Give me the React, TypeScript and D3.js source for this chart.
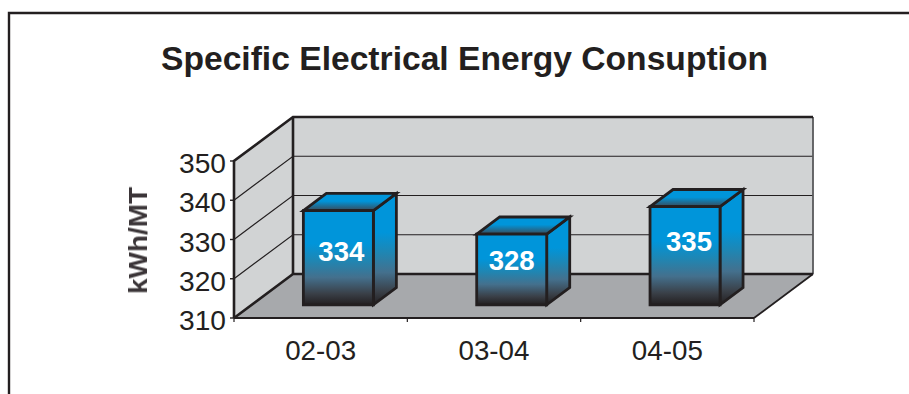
import React from "react";
import * as d3 from "d3";

// Plant energy figures by financial year
const categories = ["02-03", "03-04", "04-05"];
const values = [334, 328, 335];
const yTicks = [310, 320, 330, 340, 350];
const titleText = "Specific Electrical Energy Consuption";
const yAxisTitle = "kWh/MT";

const WIDTH = 909;
const HEIGHT = 394;
const INK = "#231f20";
const FONT = "'Liberation Sans', Arial, sans-serif";

// Oblique projection: the front plane of the box and the shift of its back plane
const FRONT_LEFT = 234;
const FRONT_RIGHT = 754;
const FRONT_BOTTOM = 318;
const FRONT_TOP = 161;
const DEPTH_X = 59;
const DEPTH_Y = -44;
const BAR_DEPTH_START = 0.3;
const BAR_DEPTH_END = 0.69;
const BAR_WIDTH = 70;

const y = d3.scaleLinear().domain([310, 350]).range([FRONT_BOTTOM, FRONT_TOP]);
const x = d3.scaleBand<string>().domain(categories).range([FRONT_LEFT, FRONT_RIGHT]);

// Per-bar nudges for the value captions
const captionOffsetX = [3, 0, 4];
const captionOffsetY = [-6, -8, -14];

const project = (px: number, value: number, depth: number): [number, number] => [
  px + DEPTH_X * depth,
  y(value) + DEPTH_Y * depth,
];

const poly = (points: [number, number][]) => {
  const p = d3.path();
  points.forEach(([a, b], i) => (i ? p.lineTo(a, b) : p.moveTo(a, b)));
  p.closePath();
  return p.toString();
};

const line = d3.line();

export default function App() {
  const base = yTicks[0];
  const top = yTicks[yTicks.length - 1];
  const backWall = poly([
    project(FRONT_LEFT, base, 1),
    project(FRONT_LEFT, top, 1),
    project(FRONT_RIGHT, top, 1),
    project(FRONT_RIGHT, base, 1),
  ]);
  const sideWall = poly([
    project(FRONT_LEFT, base, 0),
    project(FRONT_LEFT, top, 0),
    project(FRONT_LEFT, top, 1),
    project(FRONT_LEFT, base, 1),
  ]);
  const floor = poly([
    project(FRONT_LEFT, base, 0),
    project(FRONT_LEFT, base, 1),
    project(FRONT_RIGHT, base, 1),
    project(FRONT_RIGHT, base, 0),
  ]);

  return (
    <svg
      width={WIDTH}
      height={HEIGHT}
      viewBox={`0 0 ${WIDTH} ${HEIGHT}`}
      style={{ position: "absolute", left: 0, top: 0, background: "#fff" }}
    >
      <defs>
        <linearGradient id="barFront" x1="0" y1="0" x2="0" y2="1">
          <stop offset="0" stopColor="#0095da" />
          <stop offset="0.35" stopColor="#0095da" />
          <stop offset="0.53" stopColor="#1f86b3" />
          <stop offset="0.71" stopColor="#44708d" />
          <stop offset="0.88" stopColor="#3a4048" />
          <stop offset="1" stopColor={INK} />
        </linearGradient>
        <linearGradient id="barTop" x1="0" y1="1" x2="0" y2="0">
          <stop offset="0" stopColor="#3a4a58" />
          <stop offset="0.55" stopColor="#0095da" />
          <stop offset="1" stopColor="#0095da" />
        </linearGradient>
        <filter id="soft" x="-20%" y="-20%" width="140%" height="140%">
          <feGaussianBlur stdDeviation="0.7" />
        </filter>
      </defs>

      {/* outer frame, open past the right and bottom edges */}
      <path d="M9 394V13H909" fill="none" stroke={INK} strokeWidth={2.4} />

      <text
        x={464.5}
        y={69.5}
        textAnchor="middle"
        fontFamily={FONT}
        fontWeight={700}
        fontSize={33}
        fill={INK}
        textLength={607}
        lengthAdjust="spacingAndGlyphs"
      >
        {titleText}
      </text>

      {/* chart box */}
      <path d={backWall} fill="#d1d3d4" />
      <path d={sideWall} fill="#d1d3d4" />
      <path d={floor} fill="#a7a9ac" />

      {yTicks.slice(1, -1).map((t) => (
        <path
          key={t}
          d={line([project(FRONT_LEFT, t, 0), project(FRONT_LEFT, t, 1), project(FRONT_RIGHT, t, 1)]) ?? ""}
          fill="none"
          stroke={INK}
          strokeWidth={1.2}
        />
      ))}

      <path
        d={line([project(FRONT_RIGHT, top, 1), project(FRONT_RIGHT, base, 1)]) ?? ""}
        stroke="#58595b"
        strokeWidth={1.8}
      />
      <path
        d={line([
          project(FRONT_LEFT, base, 0),
          project(FRONT_LEFT, top, 0),
          project(FRONT_LEFT, top, 1),
          project(FRONT_RIGHT, top, 1),
        ]) ?? ""}
        fill="none"
        stroke={INK}
        strokeWidth={2.6}
      />
      <path
        d={line([
          project(FRONT_LEFT, base, 0),
          project(FRONT_LEFT, base, 1),
          project(FRONT_RIGHT, base, 1),
        ]) ?? ""}
        fill="none"
        stroke={INK}
        strokeWidth={2.6}
      />
      <path
        d={line([project(FRONT_LEFT, top, 1), project(FRONT_LEFT, base, 1)]) ?? ""}
        stroke={INK}
        strokeWidth={2.6}
      />
      <path
        d={line([project(FRONT_RIGHT, base, 1), project(FRONT_RIGHT, base, 0)]) ?? ""}
        stroke={INK}
        strokeWidth={1.8}
      />
      <path
        d={line([project(FRONT_LEFT, base, 0), project(FRONT_RIGHT, base, 0)]) ?? ""}
        stroke={INK}
        strokeWidth={2.2}
      />

      {/* value axis */}
      {yTicks.map((t) => (
        <g key={t}>
          <line x1={FRONT_LEFT - 4} x2={FRONT_LEFT} y1={y(t)} y2={y(t)} stroke={INK} strokeWidth={1.4} />
          <text
            x={226}
            y={y(t) + 12}
            textAnchor="end"
            fontFamily={FONT}
            fontSize={28.5}
            fill={INK}
            textLength={47}
            lengthAdjust="spacingAndGlyphs"
          >
            {t}
          </text>
        </g>
      ))}
      <text
        transform="translate(147,240.5) rotate(-90)"
        textAnchor="middle"
        fontFamily={FONT}
        fontWeight={700}
        fontSize={26}
        fill="#3a3637"
        filter="url(#soft)"
        textLength={107}
        lengthAdjust="spacingAndGlyphs"
      >
        {yAxisTitle}
      </text>

      {/* category axis */}
      {categories.map((c) => {
        const centre = (x(c) as number) + x.bandwidth() / 2;
        return (
          <g key={c}>
            <line x1={x(c) as number} x2={x(c) as number} y1={FRONT_BOTTOM} y2={FRONT_BOTTOM + 4} stroke={INK} strokeWidth={1.2} />
            <text
              x={centre}
              y={359.5}
              textAnchor="middle"
              fontFamily={FONT}
              fontSize={28.5}
              fill={INK}
              textLength={71}
              lengthAdjust="spacingAndGlyphs"
            >
              {c}
            </text>
          </g>
        );
      })}
      <line x1={FRONT_RIGHT} x2={FRONT_RIGHT} y1={FRONT_BOTTOM} y2={FRONT_BOTTOM + 4} stroke={INK} strokeWidth={1.2} />

      {/* bars */}
      {categories.map((c, i) => {
        const v = values[i];
        const left = (x(c) as number) + (x.bandwidth() - BAR_WIDTH) / 2;
        const right = left + BAR_WIDTH;
        const front = (px: number, val: number) => project(px, val, BAR_DEPTH_START);
        const back = (px: number, val: number) => project(px, val, BAR_DEPTH_END);
        const frontFace = poly([front(left, base), front(left, v), front(right, v), front(right, base)]);
        const sideFace = poly([front(right, base), front(right, v), back(right, v), back(right, base)]);
        const topFace = poly([front(left, v), back(left, v), back(right, v), front(right, v)]);
        const [fx, fy] = front((left + right) / 2, v);
        const [, by] = front(left, base);
        return (
          <g key={c} stroke={INK} strokeWidth={2.8} strokeLinejoin="miter">
            <path d={sideFace} fill="url(#barFront)" />
            <path d={topFace} fill="url(#barTop)" />
            <path d={frontFace} fill="url(#barFront)" />
            <text
              x={fx + captionOffsetX[i]}
              y={(fy + by) / 2 + captionOffsetY[i] + 9}
              textAnchor="middle"
              fontFamily={FONT}
              fontWeight={700}
              fontSize={28}
              fill="#fff"
              stroke="none"
              textLength={46}
              lengthAdjust="spacingAndGlyphs"
            >
              {v}
            </text>
          </g>
        );
      })}
    </svg>
  );
}
